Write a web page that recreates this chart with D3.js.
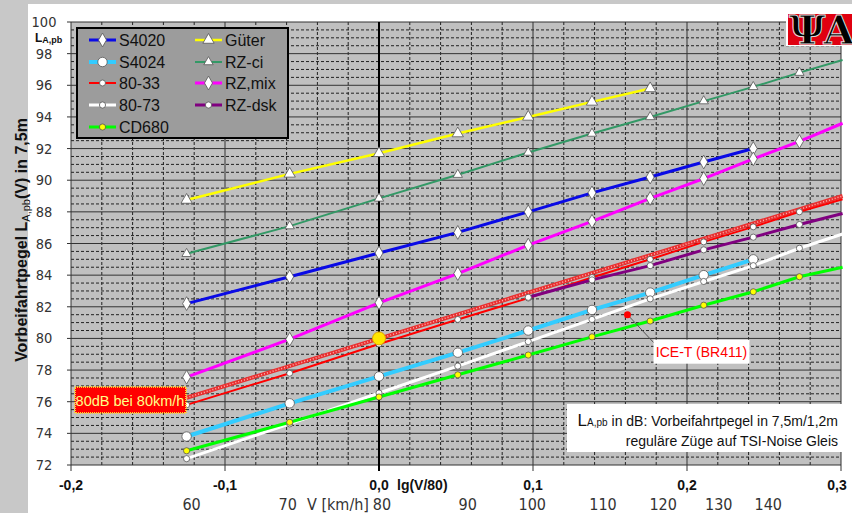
<!DOCTYPE html>
<html lang="de">
<head>
<meta charset="utf-8" />
<script src="https://d3js.org/d3.v7.min.js"></script>
<style>
  body { margin: 0; background: #fff; }
  svg { display: block; font-family: 'Liberation Sans', Arial, sans-serif; }
  .narrow { font-family: 'Liberation Sans Narrow', 'DejaVu Sans Condensed', sans-serif; }
</style>
</head>
<body>
<svg id="chart" width="852" height="513"></svg>
<script>
// speeds in km/h, plotted at lg(V/80)
const speeds = [60, 70, 80, 90, 100, 110, 120, 130, 140, 150, 160];

// pass-by levels LA,pb in dB (null = no value)
const s4020  = [82.2, 83.9, 85.4, 86.7, 88.0, 89.2, 90.2, 91.15, 92.0, null, null];
const s4024  = [73.8, 75.9, 77.6, 79.1, 80.5, 81.8, 82.9, 84.0, 85.0, null, null];
const r8033  = [75.8, 77.8, 79.65, 81.2, 82.55, 83.85, 85.0, 86.1, 87.05, 88.0, 88.8];
const r8073  = [72.4, 74.6, 76.55, 78.25, 79.8, 81.2, 82.5, 83.6, 84.6, 85.7, 86.6];
const cd680  = [72.9, 74.7, 76.3, 77.7, 78.95, 80.1, 81.1, 82.1, 82.95, 83.9, 84.5];
const gueter = [88.75, 90.4, 91.7, 92.95, 94.0, 94.95, 95.8, null, null, null, null];
const rzCi   = [85.35, 87.1, 88.85, 90.35, 91.75, 92.95, 94.0, 95.0, 95.9, 96.8, 97.6];
const rzMix  = [77.55, 79.95, 82.25, 84.1, 85.9, 87.4, 88.85, 90.1, 91.35, 92.45, 93.6];
const rzDsk  = [null, null, null, null, 82.6, 83.7, 84.6, 85.6, 86.4, 87.2, 87.9];

const seriesNames = ['S4020', 'S4024', '80-33', '80-73', 'CD680', 'Güter', 'RZ-ci', 'RZ,mix', 'RZ-dsk'];
const levels = [s4020, s4024, r8033, r8073, cd680, gueter, rzCi, rzMix, rzDsk];

// reference line 80 dB at 80 km/h
const refSpeeds = [60, 160];
const refLevels = [76.25, 89.0];
const anchorSpeed = 80, anchorLevel = 80;

// single point ICE-T
const iceSpeed = 116, iceLevel = 81.5;

const yTicks = d3.range(72, 101, 2);
const xTicks = [-0.2, -0.1, 0, 0.1, 0.2, 0.3];
const speedTicks = [60, 70, 80, 90, 100, 110, 120, 130, 140];

const svg = d3.select('#chart');
const lg = v => Math.log10(v / 80);
const x = d3.scaleLinear().domain([-0.2, 0.3]).range([71, 841]);
const y = d3.scaleLinear().domain([72, 100]).range([465, 22]);

// outer frame
svg.append('rect').attr('width', 852).attr('height', 513).attr('fill', '#c8c8c8');
svg.append('rect').attr('x', 28).attr('y', 4).attr('width', 824).attr('height', 509).attr('fill', '#fff');

// plot area
svg.append('rect')
  .attr('x', x(-0.2)).attr('y', y(100))
  .attr('width', x(0.3) - x(-0.2)).attr('height', y(72) - y(100))
  .attr('fill', '#c0c0c0');

const grid = svg.append('g');
// minor horizontal
grid.selectAll('.hmin').data(d3.range(72.5, 100, 0.5).filter(d => d % 2 !== 0))
  .join('line')
  .attr('x1', x(-0.2)).attr('x2', x(0.3))
  .attr('y1', d => y(d)).attr('y2', d => y(d))
  .attr('stroke', '#222').attr('stroke-width', 1).attr('stroke-dasharray', '3,2');
// minor vertical
grid.selectAll('.vmin').data(d3.range(-0.18, 0.3, 0.02).filter(d => Math.abs(Math.round(d * 10) - d * 10) > 0.01))
  .join('line')
  .attr('x1', d => x(d)).attr('x2', d => x(d))
  .attr('y1', y(100)).attr('y2', y(72))
  .attr('stroke', '#222').attr('stroke-width', 1).attr('stroke-dasharray', '3,2');
// major horizontal
grid.selectAll('.hmaj').data(yTicks)
  .join('line')
  .attr('x1', x(-0.2) - 4).attr('x2', x(0.3))
  .attr('y1', d => y(d)).attr('y2', d => y(d))
  .attr('stroke', '#333').attr('stroke-width', 1);
// major vertical
grid.selectAll('.vmaj').data(xTicks)
  .join('line')
  .attr('x1', d => x(d)).attr('x2', d => x(d))
  .attr('y1', y(100)).attr('y2', y(72) + 6)
  .attr('stroke', d => d === 0 ? '#000' : '#333')
  .attr('stroke-width', d => d === 0 ? 2 : 1);

// y labels
const yl = svg.append('g').attr('class', 'narrow').attr('font-size', 14.5).attr('fill', '#333')
  .attr('text-anchor', 'middle');
yl.selectAll('text').data(yTicks).join('text')
  .attr('x', 44).attr('y', d => y(d) + 5).text(d => d);
const lab = svg.append('text').attr('x', 35).attr('y', 42).attr('font-weight', 'bold').attr('fill', '#111');
lab.append('tspan').attr('font-size', 12).text('L');
lab.append('tspan').attr('font-size', 9).attr('dy', 1).text('A,pb');

// y title
const yt = svg.append('text')
  .attr('transform', 'translate(27,240) rotate(-90)')
  .attr('text-anchor', 'middle').attr('font-weight', 'bold').attr('font-size', 16).attr('fill', '#111');
yt.append('tspan').text('Vorbeifahrtpegel L');
yt.append('tspan').attr('font-size', 11).attr('font-weight', 'normal').attr('dy', 3).text('A,pb');
yt.append('tspan').attr('dy', -3).text('(V) in 7,5m');

// x labels
const xl = svg.append('g').attr('font-size', 14).attr('font-weight', 'bold').attr('fill', '#111')
  .attr('text-anchor', 'middle');
xl.selectAll('text').data(xTicks).join('text')
  .attr('x', d => x(d) + (d === 0.3 ? -4 : 0)).attr('y', 490)
  .text(d => d3.format('.1f')(d).replace('.', ',').replace('−', '-'));
svg.append('text').attr('x', 397).attr('y', 490).attr('font-size', 14).attr('font-weight', 'bold')
  .attr('fill', '#111').text('lg(V/80)');

// speed labels (hand placed in original, slight nudges)
const speedShift = {60: 5, 70: -2, 80: 3, 90: 10, 100: 4, 110: 11, 120: 13, 130: 15, 140: 15};
const sl = svg.append('g').attr('class', 'narrow').attr('font-size', 16).attr('fill', '#333')
  .attr('text-anchor', 'middle');
sl.selectAll('text').data(speedTicks).join('text')
  .attr('x', d => x(lg(d)) + speedShift[d]).attr('y', 510).text(d => d);
svg.append('text').attr('class', 'narrow').attr('x', 307).attr('y', 510).attr('font-size', 16)
  .attr('fill', '#333').text('V [km/h]');

// reference line (hatched red)
const refLine = d3.line().x(d => x(lg(d[0]))).y(d => y(d[1]));
const refData = refSpeeds.map((v, i) => [v, refLevels[i]]);
svg.append('path').attr('d', refLine(refData)).attr('stroke', '#e83030').attr('stroke-width', 4).attr('fill', 'none');
svg.append('path').attr('d', refLine(refData)).attr('stroke', '#ffb0b0').attr('stroke-width', 1.5)
  .attr('stroke-dasharray', '1,2').attr('fill', 'none');

const styles = {
  'S4020':  {color: '#0a0ae6', width: 3,   marker: d3.symbolDiamond,  size: 55, fill: '#fff'},
  'S4024':  {color: '#33ccff', width: 4,   marker: d3.symbolCircle,   size: 70, fill: '#fff'},
  '80-33':  {color: '#ff0000', width: 2,   marker: d3.symbolCircle,   size: 28, fill: '#fff'},
  '80-73':  {color: '#ffffff', width: 3,   marker: d3.symbolCircle,   size: 30, fill: '#fff'},
  'CD680':  {color: '#00ff00', width: 3,   marker: d3.symbolCircle,   size: 30, fill: '#ffff00'},
  'Güter':  {color: '#ffff00', width: 2.5, marker: d3.symbolTriangle, size: 55, fill: '#fff'},
  'RZ-ci':  {color: '#339966', width: 2,   marker: d3.symbolTriangle, size: 38, fill: '#fff'},
  'RZ,mix': {color: '#ff00ff', width: 3,   marker: d3.symbolDiamond,  size: 55, fill: '#fff'},
  'RZ-dsk': {color: '#800080', width: 3,   marker: d3.symbolCircle,   size: 30, fill: '#fff'}
};

const series = seriesNames.map((name, i) => ({
  name,
  style: styles[name],
  points: speeds.map((v, j) => ({v, L: levels[i][j]})).filter(p => p.L != null)
}));

const line = d3.line().x(d => x(lg(d.v))).y(d => y(d.L));
const plot = svg.append('g');
series.forEach(s => {
  plot.append('path').attr('d', line(s.points))
    .attr('fill', 'none').attr('stroke', s.style.color).attr('stroke-width', s.style.width);
});
series.forEach(s => {
  plot.selectAll(null).data(s.points.filter(p => p.v <= 150)).join('path')
    .attr('transform', d => `translate(${x(lg(d.v))},${y(d.L)})`)
    .attr('d', d3.symbol().type(s.style.marker).size(s.style.size))
    .attr('fill', s.style.fill).attr('stroke', '#555').attr('stroke-width', 0.8);
});

// 80 dB at 80 km/h anchor
svg.append('circle').attr('cx', x(lg(anchorSpeed))).attr('cy', y(anchorLevel)).attr('r', 6.5)
  .attr('fill', '#ffe600').attr('stroke', '#e0a000').attr('stroke-width', 1);

// ICE-T
const ix = x(lg(iceSpeed)), iy = y(iceLevel);
svg.append('line').attr('x1', ix).attr('y1', iy).attr('x2', ix + 30).attr('y2', iy + 32)
  .attr('stroke', '#555').attr('stroke-width', 1);
svg.append('circle').attr('cx', ix).attr('cy', iy).attr('r', 3.5).attr('fill', '#ff0000');
svg.append('rect').attr('x', ix + 26).attr('y', iy + 25).attr('width', 96).attr('height', 24).attr('fill', '#fff');
svg.append('text').attr('x', ix + 74).attr('y', iy + 42).attr('text-anchor', 'middle')
  .attr('font-size', 14).attr('fill', '#ff0000').text('ICE-T (BR411)');

// 80dB box
svg.append('rect').attr('x', 75).attr('y', 387).attr('width', 111).attr('height', 26)
  .attr('fill', '#ff0000').attr('stroke', '#ffcc33').attr('stroke-width', 2).attr('stroke-dasharray', '1,1');
svg.append('text').attr('x', 130).attr('y', 406).attr('text-anchor', 'middle')
  .attr('font-size', 14.5).attr('fill', '#ffff88').text('80dB bei 80km/h');

// info box bottom right
svg.append('rect').attr('x', 567).attr('y', 404).attr('width', 276).attr('height', 48).attr('fill', '#fff');
const t1 = svg.append('text').attr('x', 838).attr('y', 426).attr('text-anchor', 'end')
  .attr('font-size', 14).attr('fill', '#111');
t1.append('tspan').attr('font-size', 17).text('L');
t1.append('tspan').attr('font-size', 10).text('A,pb');
t1.append('tspan').text(' in dB: Vorbeifahrtpegel in 7,5m/1,2m');
svg.append('text').attr('x', 838).attr('y', 446).attr('text-anchor', 'end')
  .attr('font-size', 14).attr('fill', '#111').text('reguläre Züge auf TSI-Noise Gleis');

// legend
const lg0 = svg.append('g');
lg0.append('rect').attr('x', 77).attr('y', 28).attr('width', 211).attr('height', 110)
  .attr('fill', '#9c9c9c').attr('stroke', '#000').attr('stroke-width', 2);
const rowsY = [40, 62, 83, 105, 127];
series.forEach((s, i) => {
  const col = i < 5 ? 0 : 1;
  const row = i < 5 ? i : i - 5;
  const lx = col === 0 ? 89 : 195;
  const ly = rowsY[row];
  lg0.append('line').attr('x1', lx).attr('x2', lx + 27).attr('y1', ly).attr('y2', ly)
    .attr('stroke', s.style.color).attr('stroke-width', s.style.width);
  lg0.append('path').attr('transform', `translate(${lx + 13.5},${ly})`)
    .attr('d', d3.symbol().type(s.style.marker).size(s.style.size))
    .attr('fill', s.style.fill).attr('stroke', '#555').attr('stroke-width', 0.8);
  lg0.append('text').attr('x', lx + 30).attr('y', ly + 6).attr('font-size', 16).attr('fill', '#111')
    .text(s.name);
});

// logo
const logo = svg.append('g');
logo.append('rect').attr('x', 786).attr('y', 6).attr('width', 66).attr('height', 40).attr('fill', '#fff');
logo.append('rect').attr('x', 788).attr('y', 14).attr('width', 64).attr('height', 31).attr('fill', '#e00010');
logo.append('text').attr('x', 789).attr('y', 44).attr('font-family', 'DejaVu Serif, serif')
  .attr('font-weight', 'bold').attr('font-size', 40).attr('fill', '#000').attr('letter-spacing', -2)
  .attr('stroke', '#ddd').attr('stroke-width', 1).text('ΨA');
</script>
</body>
</html>
